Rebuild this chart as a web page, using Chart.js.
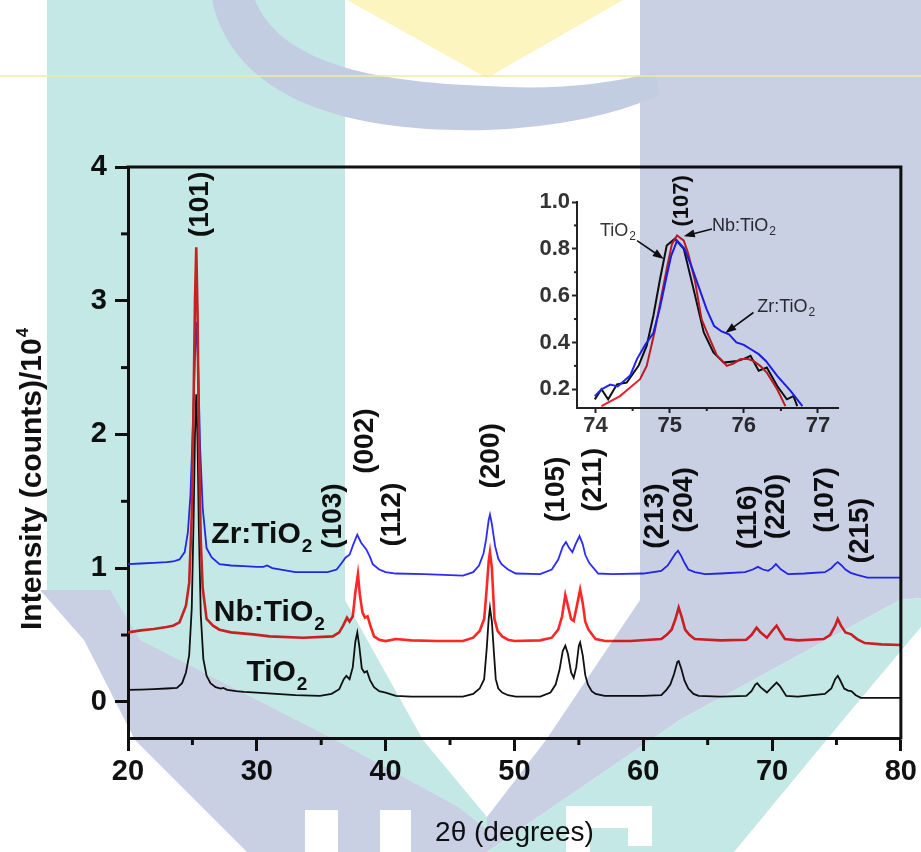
<!DOCTYPE html>
<html>
<head>
<meta charset="utf-8">
<script src="https://cdn.jsdelivr.net/npm/chart.js@4.4.1/dist/chart.umd.min.js"></script>
<style>
  html, body { margin: 0; padding: 0; background: #fff; }
  #main { display: block; }
  #hold { position: absolute; left: -5000px; top: 0; }
</style>
</head>
<body>
<canvas id="main" width="921" height="852"></canvas>
<div id="hold"><canvas id="inset" width="330" height="270"></canvas></div>
<script>
// ---------- data: main XRD patterns (2θ in degrees, intensity in counts/10^4) ----------
const tio2Theta = [20, 21, 22, 23, 23.8, 24.2, 24.5, 24.75, 24.95, 25.1, 25.2, 25.3, 25.4, 25.5, 25.65, 25.85, 26.1, 26.4, 26.8, 27.2, 27.4, 27.7, 28.4, 29, 30, 31.5, 33, 34.9, 35.8, 36.4, 36.75, 36.95, 37.2, 37.45, 37.65, 37.8, 37.95, 38.15, 38.35, 38.55, 38.8, 39.1, 39.5, 40, 40.8, 42, 44, 46, 46.8, 47.3, 47.65, 47.85, 48, 48.1, 48.25, 48.4, 48.55, 48.75, 49.05, 49.5, 50.1, 52, 52.8, 53.2, 53.5, 53.75, 53.95, 54.15, 54.4, 54.6, 54.8, 55, 55.1, 55.3, 55.5, 55.7, 56, 56.3, 57, 60, 61.4, 61.8, 62.1, 62.4, 62.65, 62.75, 62.95, 63.2, 63.5, 63.9, 64.3, 66, 68, 68.4, 68.7, 68.85, 69.1, 69.6, 70, 70.35, 70.6, 71.1, 72, 74.1, 74.6, 74.9, 75.1, 75.3, 75.6, 75.9, 76.15, 76.5, 76.9, 78, 80];
const tio2Int = [0.09, 0.092, 0.095, 0.1, 0.105, 0.14, 0.22, 0.35, 0.7, 1.4, 2.0, 2.3, 1.95, 1.3, 0.65, 0.32, 0.195, 0.14, 0.11, 0.1, 0.105, 0.09, 0.08, 0.075, 0.07, 0.06, 0.05, 0.045, 0.06, 0.095, 0.17, 0.195, 0.17, 0.26, 0.45, 0.52, 0.42, 0.25, 0.22, 0.23, 0.16, 0.11, 0.08, 0.07, 0.045, 0.04, 0.04, 0.04, 0.06, 0.1, 0.17, 0.4, 0.62, 0.705, 0.6, 0.38, 0.17, 0.1, 0.07, 0.05, 0.04, 0.04, 0.07, 0.13, 0.24, 0.38, 0.42, 0.36, 0.22, 0.18, 0.26, 0.42, 0.445, 0.35, 0.2, 0.13, 0.08, 0.06, 0.045, 0.045, 0.05, 0.09, 0.13, 0.21, 0.3, 0.305, 0.25, 0.16, 0.1, 0.06, 0.045, 0.04, 0.045, 0.08, 0.13, 0.14, 0.11, 0.07, 0.11, 0.145, 0.12, 0.045, 0.04, 0.06, 0.1, 0.17, 0.195, 0.16, 0.1, 0.085, 0.08, 0.05, 0.03, 0.03, 0.03];

const nbTheta = [20, 21, 22, 23, 23.5, 24, 24.5, 24.75, 24.95, 25.1, 25.2, 25.3, 25.4, 25.5, 25.65, 25.8, 26.1, 26.6, 27.1, 28, 29.7, 31, 33.6, 35.9, 36.4, 36.7, 37, 37.2, 37.45, 37.65, 37.85, 38, 38.2, 38.4, 38.6, 38.85, 39.1, 39.5, 40, 40.8, 42, 44, 46, 46.8, 47.3, 47.65, 47.85, 48, 48.1, 48.25, 48.45, 48.7, 49.05, 49.5, 50, 52, 52.9, 53.4, 53.7, 53.95, 54.15, 54.4, 54.6, 54.85, 55.1, 55.3, 55.5, 55.75, 56.3, 57.05, 59, 61.4, 61.8, 62.2, 62.5, 62.75, 63, 63.25, 63.6, 64, 66, 68, 68.4, 68.8, 69.1, 69.6, 70, 70.35, 70.6, 71, 72, 74, 74.5, 74.9, 75.1, 75.35, 75.7, 76.15, 76.6, 77.2, 78.5, 80];
const nbInt = [0.52, 0.535, 0.545, 0.56, 0.57, 0.595, 0.72, 0.89, 1.4, 2.3, 3.0, 3.4, 2.9, 2.0, 1.2, 0.85, 0.62, 0.57, 0.54, 0.52, 0.505, 0.49, 0.48, 0.49, 0.52, 0.57, 0.63, 0.6, 0.64, 0.82, 0.955, 0.8, 0.67, 0.63, 0.64, 0.56, 0.49, 0.465, 0.455, 0.47, 0.46, 0.455, 0.455, 0.48, 0.53, 0.62, 0.85, 1.05, 1.12, 1.0, 0.62, 0.53, 0.49, 0.465, 0.455, 0.46, 0.48, 0.54, 0.64, 0.8, 0.72, 0.62, 0.605, 0.72, 0.84, 0.74, 0.6, 0.54, 0.47, 0.455, 0.455, 0.47, 0.5, 0.54, 0.62, 0.705, 0.63, 0.54, 0.5, 0.47, 0.46, 0.465, 0.5, 0.555, 0.52, 0.48, 0.53, 0.57, 0.53, 0.47, 0.46, 0.47, 0.5, 0.57, 0.62, 0.57, 0.52, 0.505, 0.47, 0.44, 0.43, 0.425];

const zrTheta = [20, 21, 22, 23, 23.5, 24, 24.4, 24.65, 24.85, 25.05, 25.2, 25.3, 25.45, 25.6, 25.8, 26.1, 26.5, 27.1, 28, 29, 30, 30.5, 30.8, 31.2, 33, 35.5, 36.2, 36.6, 36.9, 37.2, 37.5, 37.8, 38.1, 38.5, 38.8, 39, 39.5, 40, 40.8, 43, 46, 46.8, 47.25, 47.6, 47.8, 48, 48.1, 48.25, 48.5, 48.75, 49, 49.5, 50.1, 52, 52.9, 53.4, 53.75, 54, 54.25, 54.5, 54.75, 55.05, 55.3, 55.5, 55.8, 56.5, 57.6, 60, 61.4, 61.9, 62.2, 62.5, 62.7, 62.95, 63.2, 63.5, 64, 64.8, 66, 67.9, 68.5, 68.9, 69.3, 69.7, 70, 70.3, 70.7, 71.25, 72.5, 74.1, 74.6, 74.9, 75.1, 75.4, 75.7, 76.1, 76.6, 77.4, 80];
const zrInt = [1.03, 1.035, 1.04, 1.045, 1.05, 1.065, 1.12, 1.27, 1.55, 2.1, 2.6, 2.84, 2.5, 1.9, 1.45, 1.15, 1.08, 1.03, 1.02, 1.015, 1.01, 1.01, 1.02, 1.0, 0.97, 0.97, 0.99, 1.04, 1.08, 1.1, 1.18, 1.25, 1.19, 1.14, 1.08, 1.03, 0.99, 0.97, 0.96, 0.955, 0.945, 0.97, 1.02, 1.11, 1.215, 1.36, 1.4, 1.33, 1.165, 1.07, 1.03, 0.99, 0.96, 0.955, 0.99, 1.065, 1.16, 1.195, 1.15, 1.12, 1.18, 1.24, 1.18, 1.1, 1.04, 0.96, 0.955, 0.96, 0.98, 1.02, 1.065, 1.11, 1.13, 1.09, 1.04, 0.99, 0.97, 0.955, 0.96, 0.97, 0.99, 1.01, 0.99, 0.98, 1.0, 1.03, 0.99, 0.955, 0.96, 0.97, 1.0, 1.03, 1.045, 1.02, 0.99, 0.965, 0.95, 0.93, 0.93];

const mainXTicks = [20, 30, 40, 50, 60, 70, 80];
const mainYTicks = [0, 1, 2, 3, 4];
const mainXMinor = [25, 35, 45, 55, 65, 75];
const mainYMinor = [0.5, 1.5, 2.5, 3.5];

// peak labels: [text, 2θ, intensity] (centre of the rotated label)
const peakLabels = [
  ['(101)', 25.65, 3.72], ['(103)', 35.95, 1.39], ['(002)', 38.43, 1.95], ['(112)', 40.52, 1.40],
  ['(200)', 48.18, 1.84], ['(105)', 53.21, 1.59], ['(211)', 56.15, 1.66], ['(213)', 60.95, 1.39],
  ['(204)', 63.2, 1.51], ['(116)', 68.15, 1.38], ['(220)', 70.32, 1.46], ['(107)', 74.11, 1.51],
  ['(215)', 76.82, 1.28]
];
// sample names: [text, subscript, 2θ, intensity] (baseline start)
const sampleLabels = [
  ['Zr:TiO', '2', 26.47, 1.19], ['Nb:TiO', '2', 26.66, 0.605], ['TiO', '2', 29.19, 0.157]
];

// ---------- data: inset, (107) reflection ----------
const zrInsetTheta = [73.99, 74.08, 74.2, 74.3, 74.47, 74.56, 74.67, 74.78, 74.87, 74.95, 75.02, 75.1, 75.2, 75.3, 75.4, 75.5, 75.6, 75.7, 75.8, 75.9, 76.0, 76.1, 76.2, 76.3, 76.45, 76.63, 76.79];
const zrInsetInt = [0.17, 0.2, 0.22, 0.212, 0.26, 0.33, 0.39, 0.44, 0.55, 0.67, 0.77, 0.835, 0.8, 0.72, 0.63, 0.54, 0.47, 0.447, 0.435, 0.4, 0.39, 0.37, 0.35, 0.32, 0.257, 0.193, 0.128];
const nbInsetTheta = [74.08, 74.33, 74.6, 74.69, 74.8, 74.89, 74.96, 75.03, 75.1, 75.19, 75.25, 75.34, 75.43, 75.52, 75.64, 75.77, 75.86, 75.95, 76.05, 76.13, 76.22, 76.31, 76.45, 76.56];
const nbInsetInt = [0.128, 0.171, 0.243, 0.3, 0.45, 0.6, 0.714, 0.82, 0.857, 0.835, 0.78, 0.665, 0.5, 0.43, 0.343, 0.3, 0.31, 0.328, 0.33, 0.321, 0.3, 0.271, 0.2, 0.128];
const tio2InsetTheta = [73.99, 74.08, 74.17, 74.29, 74.42, 74.58, 74.69, 74.78, 74.87, 74.96, 75.07, 75.19, 75.32, 75.46, 75.59, 75.73, 75.91, 76.0, 76.09, 76.2, 76.31, 76.45, 76.58, 76.67, 76.72];
const tio2InsetInt = [0.157, 0.2, 0.157, 0.221, 0.229, 0.3, 0.386, 0.514, 0.671, 0.814, 0.843, 0.8, 0.63, 0.443, 0.357, 0.314, 0.321, 0.33, 0.343, 0.279, 0.293, 0.214, 0.157, 0.171, 0.128];

const insetXTicks = [74, 75, 76, 77];
const insetYTicks = [0.2, 0.4, 0.6, 0.8, 1.0];
const insetXMinor = [74.5, 75.5, 76.5];
const insetYMinor = [0.3, 0.5, 0.7, 0.9];

// inset notes: [text, subscript, 2θ, intensity]; arrows: [from2θ, fromI, to2θ, toI]
const insetNotes = [['TiO', '2', 74.06, 0.855], ['Nb:TiO', '2', 75.57, 0.877], ['Zr:TiO', '2', 76.18, 0.53]];
const insetArrows = [[74.56, 0.835, 74.92, 0.757], [75.57, 0.885, 75.19, 0.854], [76.13, 0.528, 75.75, 0.44]];

// ---------- helpers ----------
const FONT = "'Liberation Sans', Arial, Helvetica, sans-serif";
const INK = '#111';
Chart.defaults.font.family = FONT;

const pts = (xs, ys) => xs.map((x, i) => ({ x, y: ys[i] }));

function chemText(c, x, y, base, sub, size, weight, subDrop) {
  c.font = `${weight} ${size}px ${FONT}`;
  c.textAlign = 'left';
  c.textBaseline = 'alphabetic';
  c.fillText(base, x, y);
  const w = c.measureText(base).width;
  c.font = `${weight} ${Math.round(size * 0.64)}px ${FONT}`;
  c.fillText(sub, x + w + 1, y + subDrop);
}

function tickLine(c, x1, y1, x2, y2) {
  c.beginPath(); c.moveTo(x1, y1); c.lineTo(x2, y2); c.stroke();
}

// ---------- watermark (drawn last, multiplied over the chart) ----------
function buildWatermark(w, h) {
  const cv = document.createElement('canvas');
  cv.width = w; cv.height = h;
  const g = cv.getContext('2d');
  const poly = (col, p) => {
    g.fillStyle = col;
    g.beginPath();
    p.forEach(([x, y], i) => i ? g.lineTo(x, y) : g.moveTo(x, y));
    g.closePath();
    g.fill();
  };
  const TEAL = '#c4e8e5', SLATE = '#c9d0e4', YEL = '#fdf5c0';
  poly(TEAL, [[47, 0], [345, 0], [345, 600], [423, 740], [487, 817], [487, 852], [247, 852], [47, 590]]);
  poly(SLATE, [[640, 0], [921, 0], [921, 598], [900, 600], [680, 720], [487, 852], [487, 817], [546, 740], [640, 600]]);
  poly(TEAL, [[900, 600], [921, 598], [921, 627], [843, 720], [734, 852], [487, 852], [680, 720]]);
  poly(SLATE, [[40, 590], [110, 590], [140, 640], [335, 740], [458, 807], [487, 830], [487, 852], [247, 852], [135, 740], [84, 640]]);
  poly(YEL, [[347, 0], [623, 0], [487, 78]]);
  // swoosh
  g.fillStyle = '#c3cde1';
  g.beginPath();
  g.moveTo(212, 0);
  g.bezierCurveTo(235, 105, 360, 133, 487, 130);
  g.quadraticCurveTo(590, 126, 660, 95);
  g.lineTo(655, 72);
  g.quadraticCurveTo(580, 92, 487, 86);
  g.bezierCurveTo(370, 82, 280, 62, 255, 0);
  g.closePath();
  g.fill();
  g.strokeStyle = '#f0eba0'; g.lineWidth = 1.5;
  tickLine(g, 0, 76, w, 76);
  // letters cut out of the logo
  g.globalCompositeOperation = 'destination-out';
  [[305, 810, 33, 42], [380, 810, 31, 42], [566, 806, 86, 22], [566, 806, 24, 46], [628, 806, 24, 40]]
    .forEach(r => g.fillRect(r[0], r[1], r[2], r[3]));
  return cv;
}
const watermark = buildWatermark(921, 852);

// ---------- inset chart ----------
const insetDecor = {
  id: 'insetDecor',
  afterDraw(chart) {
    const c = chart.ctx, a = chart.chartArea, xs = chart.scales.x, ys = chart.scales.y;
    c.save();
    c.strokeStyle = '#222'; c.lineWidth = 2;
    insetXMinor.forEach(v => { const p = xs.getPixelForValue(v); tickLine(c, p, a.bottom, p, a.bottom + 3); });
    insetYMinor.forEach(v => { const p = ys.getPixelForValue(v); tickLine(c, a.left, p, a.left - 3, p); });

    c.fillStyle = '#333';
    insetNotes.forEach(([t, s, x, y]) => chemText(c, xs.getPixelForValue(x), ys.getPixelForValue(y), t, s, 18, 'normal', 4));

    c.strokeStyle = '#111'; c.fillStyle = '#111'; c.lineWidth = 1.6;
    insetArrows.forEach(([x0, y0, x1, y1]) => {
      const p0 = [xs.getPixelForValue(x0), ys.getPixelForValue(y0)];
      const p1 = [xs.getPixelForValue(x1), ys.getPixelForValue(y1)];
      const ang = Math.atan2(p1[1] - p0[1], p1[0] - p0[0]);
      tickLine(c, p0[0], p0[1], p1[0] - 6 * Math.cos(ang), p1[1] - 6 * Math.sin(ang));
      c.beginPath();
      c.moveTo(p1[0], p1[1]);
      c.lineTo(p1[0] - 11 * Math.cos(ang) + 4 * Math.sin(ang), p1[1] - 11 * Math.sin(ang) - 4 * Math.cos(ang));
      c.lineTo(p1[0] - 11 * Math.cos(ang) - 4 * Math.sin(ang), p1[1] - 11 * Math.sin(ang) + 4 * Math.cos(ang));
      c.closePath();
      c.fill();
    });

    // (107) label above the peak
    c.fillStyle = INK;
    c.font = `bold 22px ${FONT}`;
    c.translate(xs.getPixelForValue(75.17), ys.getPixelForValue(1.005));
    c.rotate(-Math.PI / 2);
    c.textAlign = 'center'; c.textBaseline = 'middle';
    c.fillText('(107)', 0, 0);
    c.restore();
  }
};

const insetChart = new Chart(document.getElementById('inset'), {
  type: 'line',
  data: {
    datasets: [
      { label: 'Zr:TiO2', data: pts(zrInsetTheta, zrInsetInt), borderColor: '#2323ff', borderWidth: 2 },
      { label: 'Nb:TiO2', data: pts(nbInsetTheta, nbInsetInt), borderColor: '#ee1f26', borderWidth: 2 },
      { label: 'TiO2', data: pts(tio2InsetTheta, tio2InsetInt), borderColor: '#111', borderWidth: 2 }
    ]
  },
  options: {
    responsive: false,
    animation: false,
    devicePixelRatio: 1,
    elements: { point: { radius: 0 }, line: { tension: 0 } },
    layout: { padding: { left: 0, top: 32, right: 12, bottom: 0 } },
    plugins: { legend: { display: false }, tooltip: { enabled: false } },
    scales: {
      x: {
        type: 'linear', min: 73.75, max: 77.27,
        afterBuildTicks: s => { s.ticks = insetXTicks.map(v => ({ value: v })); },
        ticks: { font: { size: 22, weight: 'bold' }, color: '#333', padding: 0, maxRotation: 0, autoSkip: false },
        grid: { drawOnChartArea: false, tickLength: 5, tickWidth: 2, tickColor: '#222' },
        border: { width: 2, color: '#222' },
        afterFit: s => { s.height = 32; }
      },
      y: {
        min: 0.12, max: 1.0,
        afterBuildTicks: s => { s.ticks = insetYTicks.map(v => ({ value: v })); },
        ticks: { font: { size: 22, weight: 'bold' }, color: '#333', padding: 2, callback: v => v.toFixed(1) },
        grid: { drawOnChartArea: false, tickLength: 5, tickWidth: 2, tickColor: '#222' },
        border: { width: 2, color: '#222' },
        afterFit: s => { s.width = 57; }
      }
    }
  },
  plugins: [insetDecor]
});

// ---------- main chart ----------
const mainDecor = {
  id: 'mainDecor',
  beforeDraw(chart) {
    const c = chart.ctx;
    c.save(); c.fillStyle = '#fff'; c.fillRect(0, 0, chart.width, chart.height); c.restore();
  },
  afterDraw(chart) {
    const c = chart.ctx, a = chart.chartArea, xs = chart.scales.x, ys = chart.scales.y;
    c.save();
    c.strokeStyle = INK; c.lineWidth = 3;
    // top + right frame
    c.beginPath(); c.moveTo(a.left - 1.5, a.top); c.lineTo(a.right, a.top); c.lineTo(a.right, a.bottom + 1.5); c.stroke();
    // minor ticks
    mainXMinor.forEach(v => { const p = xs.getPixelForValue(v); tickLine(c, p, a.bottom, p, a.bottom + 7); });
    mainYMinor.forEach(v => { const p = ys.getPixelForValue(v); tickLine(c, a.left, p, a.left - 7, p); });

    c.fillStyle = INK;
    // peak labels
    peakLabels.forEach(([t, x, y]) => {
      c.save();
      c.font = `bold 28px ${FONT}`;
      c.translate(xs.getPixelForValue(x), ys.getPixelForValue(y));
      c.rotate(-Math.PI / 2);
      c.textAlign = 'center'; c.textBaseline = 'middle';
      c.fillText(t, 0, 0);
      c.restore();
    });
    // sample names
    sampleLabels.forEach(([t, s, x, y]) => chemText(c, xs.getPixelForValue(x), ys.getPixelForValue(y), t, s, 30, 'bold', 9));

    // y axis title with superscript
    c.save();
    c.translate(41, 630);
    c.rotate(-Math.PI / 2);
    c.font = `bold 30px ${FONT}`;
    c.textAlign = 'left'; c.textBaseline = 'alphabetic';
    const yt = 'Intensity (counts)/10';
    c.fillText(yt, 0, 0);
    const w = c.measureText(yt).width;
    c.font = `bold 17px ${FONT}`;
    c.fillText('4', w + 1, -13);
    c.restore();

    // inset
    c.drawImage(insetChart.canvas, 520, 170);

    // watermark tint
    c.globalCompositeOperation = 'multiply';
    c.drawImage(watermark, 0, 0);
    c.restore();
  }
};

// dataset 0 is drawn on top: Nb over Zr over TiO2
new Chart(document.getElementById('main'), {
  type: 'line',
  data: {
    datasets: [
      { label: 'Nb:TiO2', data: pts(nbTheta, nbInt), borderColor: '#ff2626', borderWidth: 2.6 },
      { label: 'Zr:TiO2', data: pts(zrTheta, zrInt), borderColor: '#2b2bff', borderWidth: 1.8 },
      { label: 'TiO2', data: pts(tio2Theta, tio2Int), borderColor: '#111', borderWidth: 1.8 }
    ]
  },
  options: {
    responsive: false,
    animation: false,
    devicePixelRatio: 1,
    elements: { point: { radius: 0 }, line: { tension: 0 } },
    layout: { padding: { left: 0, top: 167, right: 18, bottom: 0 } },
    plugins: { legend: { display: false }, tooltip: { enabled: false } },
    scales: {
      x: {
        type: 'linear', min: 20, max: 80,
        afterBuildTicks: s => { s.ticks = mainXTicks.map(v => ({ value: v })); },
        ticks: { font: { size: 29, weight: 'bold' }, color: INK, padding: 4, maxRotation: 0, autoSkip: false },
        grid: { drawOnChartArea: false, tickLength: 13, tickWidth: 3, tickColor: INK },
        border: { width: 3, color: INK },
        title: { display: true, text: '2θ (degrees)', color: INK, font: { size: 28 }, padding: { top: 0, bottom: 2 } },
        afterFit: s => { s.height = 114; }
      },
      y: {
        min: -0.27, max: 4,
        afterBuildTicks: s => { s.ticks = mainYTicks.map(v => ({ value: v })); },
        ticks: { font: { size: 29, weight: 'bold' }, color: INK, padding: 8 },
        grid: { drawOnChartArea: false, tickLength: 13, tickWidth: 3, tickColor: INK },
        border: { width: 3, color: INK },
        afterFit: s => { s.width = 128; }
      }
    }
  },
  plugins: [mainDecor]
});
</script>
</body>
</html>
